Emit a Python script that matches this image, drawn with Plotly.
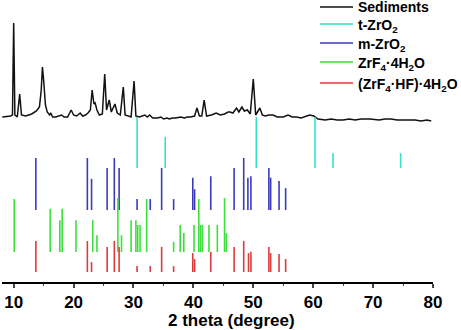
import plotly.graph_objects as go

# ---- Sediments XRD trace (2theta in degree, intensity in a.u.) ----
sed_2theta = [8.1, 9.5, 9.8, 10.0, 10.2, 10.6, 11.0, 11.3, 12.0, 13.0, 13.8, 14.3, 14.6, 14.8, 15.0,
              15.3, 15.6, 16.0, 16.2, 16.5, 17.0, 17.5, 18.0, 18.4, 19.0, 19.6, 20.0, 20.5, 21.1,
              21.5, 22.0, 22.4, 22.8, 23.1, 23.4, 23.6, 23.9, 24.3, 24.8, 25.2, 25.5, 25.95, 26.3,
              26.9, 27.3, 27.8, 28.3, 28.6, 29.0, 29.6, 30.1, 30.4, 31.0, 31.9, 32.3, 32.7, 33.2,
              34.0, 34.6, 35.0, 35.6, 36.0, 36.5, 37.0, 37.9, 38.5, 39.0, 39.5, 40.2, 40.6, 41.0, 41.4,
              41.8, 42.2, 43.0, 43.8, 44.5, 45.2, 45.8, 46.1, 46.6, 47.2, 47.6, 48.1, 48.5, 49.0,
              49.5, 50.0, 50.4, 51.1, 51.5, 52.0, 52.6, 53.3, 54.0, 55.0, 55.8, 56.5, 57.2, 58.0,
              59.4, 60.1, 60.8, 62.0, 63.0, 64.0, 65.0, 66.0, 67.0, 68.0, 69.5, 70.5, 71.0, 72.0,
              73.0, 74.0, 74.8, 76.0, 77.0, 78.0, 79.0, 79.7]
sed_int = [4, 5, 6, 98, 6, 4, 27, 6, 5, 7, 10, 14, 31, 54, 41,
           16, 9, 6, 8, 4, 4, 5, 6, 4, 4, 11, 6, 5, 8,
           5, 6, 8, 11, 31, 17, 18, 11, 6, 7, 47, 11, 21, 9,
           17, 8, 6, 34, 6, 5, 4, 40, 5, 4, 6, 4, 6, 3,
           3, 4, 2, 3, 2, 3, 3, 4, 3, 4, 4, 5, 13, 5, 5,
           21, 5, 6, 8, 6, 7, 9, 9, 8, 13, 9, 14, 10, 11,
           7, 42, 6, 13, 6, 5, 6, 6, 4, 4, 6, 4, 4, 3,
           6, 5, 2, 1, 2, 1, 1, 2, 1, 2, 2, 1, 1, 2,
           2, 1, 1, 1, 1, 0, 1, 0]

# ---- Reference patterns: peak position (2theta) and relative intensity (%) ----
t_zro2_pos = [30.6, 35.3, 50.5, 60.3, 63.3, 74.6]
t_zro2_int = [100, 61, 100, 100, 29, 29]

m_zro2_pos = [13.7, 22.3, 23.0, 25.6, 26.8, 27.6, 30.6, 32.8, 34.7, 36.7, 39.9, 40.2, 42.9,
              46.8, 48.4, 49.1, 49.6, 52.6, 52.9, 54.3, 55.4]
m_zro2_int = [100, 100, 60, 81, 100, 81, 21, 21, 81, 21, 62, 40, 65,
              81, 100, 62, 65, 81, 62, 56, 42]

zrf4_pos = [10.1, 16.1, 17.7, 18.1, 20.4, 23.2, 23.9, 27.4, 28.0, 29.6, 30.4, 30.7, 31.1, 32.2,
            36.7, 37.8, 38.4, 40.1, 40.9, 41.2, 41.5, 42.6, 44.0, 45.2, 45.5]
zrf4_int = [98, 80, 59, 80, 59, 59, 31, 100, 31, 59, 59, 50, 50, 98,
            19, 50, 35, 50, 98, 50, 50, 50, 50, 100, 35]

zrf4hf_pos = [13.7, 22.3, 23.0, 25.6, 26.8, 27.6, 30.6, 32.8, 34.7, 36.7, 39.9, 40.2, 42.9,
              46.8, 48.4, 49.2, 49.6, 52.6, 52.9, 54.3, 55.4]
zrf4hf_int = [100, 100, 32, 81, 100, 81, 19, 19, 81, 19, 61, 42, 65,
              81, 100, 61, 65, 81, 61, 58, 42]

x_ticks = [10, 20, 30, 40, 50, 60, 70, 80]
legend_labels = ["Sediments", "t-ZrO<sub>2</sub>", "m-ZrO<sub>2</sub>",
                 "ZrF<sub>4</sub>·4H<sub>2</sub>O", "(ZrF<sub>4</sub>·HF)·4H<sub>2</sub>O"]

# ---- layout constants (pixels of the 461x330 canvas) ----
W, H = 461, 330
ML, MR, MT, MB = 2, 28, 0, 48
PW, PH = W - ML - MR, H - MT - MB

def px_x(px):
    return (px - ML) / PW

def px_y(py):
    return (H - MB - py) / PH

SED_OFFSET = 161
colors = ["#111111", "#33e0cc", "#3a3abb", "#3ddd3d", "#dd3b3b"]
patterns = [
    (t_zro2_pos, t_zro2_int, 114, 0.51),
    (m_zro2_pos, m_zro2_int, 72, 0.52),
    (zrf4_pos, zrf4_int, 30, 0.54),
    (zrf4hf_pos, zrf4hf_int, 10, 0.31),
]

fig = go.Figure()
fig.add_trace(go.Scatter(
    x=sed_2theta, y=[SED_OFFSET + v for v in sed_int], mode="lines",
    line=dict(color=colors[0], width=1.5), name="Sediments", showlegend=False))

for i, (pos, inten, off, sc) in enumerate(patterns):
    xs, ys = [], []
    for p, v in zip(pos, inten):
        xs += [p, p, None]
        ys += [off, off + v * sc, None]
    fig.add_trace(go.Scatter(x=xs, y=ys, mode="lines", name=legend_labels[i + 1],
                             showlegend=False, line=dict(color=colors[i + 1], width=1.6)))

# ---- legend drawn manually (line sample + label) ----
legend_rows_px = [7, 24, 43, 62, 83]
shapes, annotations = [], []
for k, (lab, col, ry) in enumerate(zip(legend_labels, colors, legend_rows_px)):
    shapes.append(dict(type="line", xref="paper", yref="paper",
                       x0=px_x(320), x1=px_x(353), y0=px_y(ry), y1=px_y(ry),
                       line=dict(color=col, width=1.5)))
    annotations.append(dict(text=lab, xref="paper", yref="paper",
                            x=px_x(357), y=px_y(ry + (2 if "<sub>" in lab else 0)),
                            xanchor="left", yanchor="top" if k == 0 else "middle",
                            yshift=9 if k == 0 else 0, borderpad=0, showarrow=False,
                            font=dict(size=14, weight="bold")))

annotations.append(dict(text="2 theta (degree)", xref="paper", yref="paper",
                        x=px_x(231), y=px_y(320), xanchor="center", yanchor="middle",
                        showarrow=False, font=dict(size=17, weight="bold")))

fig.update_layout(
    width=W, height=H,
    margin=dict(l=ML, r=MR, t=MT, b=MB),
    paper_bgcolor="white", plot_bgcolor="white",
    font=dict(family="Liberation Sans, Arial, sans-serif", color="black"),
    showlegend=False,
    xaxis=dict(range=[8.05, 80], tickvals=x_ticks, ticks="outside", ticklen=4,
               tickwidth=1.5, showline=True, linecolor="black", linewidth=1.5,
               showgrid=False, zeroline=False,
               tickfont=dict(size=17, weight="bold"),
               minor=dict(dtick=5, ticks="outside", ticklen=2.5, tickwidth=1.2, showgrid=False)),
    yaxis=dict(range=[0, PH], visible=False),
    shapes=shapes,
    annotations=annotations,
)

fig.write_html("out.html")
